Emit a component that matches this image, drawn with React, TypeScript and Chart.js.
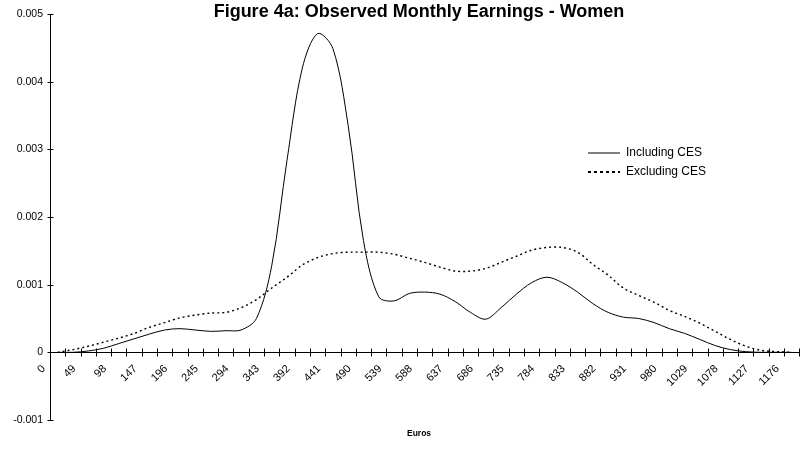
import { useEffect, useRef } from 'react';
import { Chart, registerables } from 'chart.js';

Chart.register(...registerables);

const FONT = "Arial, 'Liberation Sans', sans-serif";

const categories = [
  '0', '24.5', '49', '73.5', '98', '122.5', '147', '171.5', '196', '220.5',
  '245', '269.5', '294', '318.5', '343', '367.5', '392', '416.5', '441', '465.5',
  '490', '514.5', '539', '563.5', '588', '612.5', '637', '661.5', '686', '710.5',
  '735', '759.5', '784', '808.5', '833', '857.5', '882', '906.5', '931', '955.5',
  '980', '1004.5', '1029', '1053.5', '1078', '1102.5', '1127', '1151.5', '1176',
];

const tickLabels = [
  '0', '49', '98', '147', '196', '245', '294', '343', '392', '441', '490', '539', '588',
  '637', '686', '735', '784', '833', '882', '931', '980', '1029', '1078', '1127', '1176',
];

const includingCES = [
  0, 0, 0.00002, 0.00006, 0.00013, 0.0002, 0.00027, 0.00033, 0.00035, 0.00033,
  0.00031, 0.00032, 0.00033, 0.0005, 0.00128, 0.00284, 0.0042, 0.00471, 0.00449, 0.00335,
  0.00165, 0.00082, 0.00076, 0.00087, 0.00089, 0.00086, 0.00075, 0.00059, 0.00049, 0.00066,
  0.00086, 0.00103, 0.00111, 0.00103, 0.00089, 0.00072, 0.00059, 0.00052, 0.0005, 0.00044,
  0.00035, 0.00028, 0.00019, 0.0001, 0.00004, 0.00001, 0, 0, 0,
];

const excludingCES = [
  0, 0.00004, 0.00009, 0.00015, 0.00021, 0.00028, 0.00037, 0.00044, 0.00051, 0.00055,
  0.00058, 0.00059, 0.00066, 0.00078, 0.00095, 0.00111, 0.00129, 0.0014, 0.00146, 0.00148,
  0.00148, 0.00148, 0.00145, 0.00139, 0.00133, 0.00126, 0.0012, 0.0012, 0.00124, 0.00133,
  0.00142, 0.00151, 0.00155, 0.00155, 0.00148, 0.0013, 0.00114, 0.00095, 0.00084, 0.00074,
  0.00062, 0.00053, 0.00043, 0.00031, 0.00019, 0.00009, 0.00003, 0.00001, 0,
];

const yMin = -0.001;
const yMax = 0.005;
const yStep = 0.001;

const crossTicks = {
  id: 'crossTicks',
  afterDraw(chart: any) {
    const ctx = chart.ctx;
    const xs = chart.scales.x;
    const ys = chart.scales.y;
    const y0 = Math.round(ys.getPixelForValue(0)) + 0.5;
    const x0 = Math.round(chart.chartArea.left) + 0.5;
    const n = categories.length;
    const w = xs.getPixelForValue(1) - xs.getPixelForValue(0);
    const start = xs.getPixelForValue(0) - w / 2;
    ctx.save();
    ctx.strokeStyle = '#000';
    ctx.lineWidth = 1;
    ctx.beginPath();
    for (let i = 0; i <= n; i++) {
      const px = Math.round(start + i * w) + 0.5;
      ctx.moveTo(px, y0 - 4);
      ctx.lineTo(px, y0 + 4);
    }
    ys.ticks.forEach((t: any) => {
      const py = Math.round(ys.getPixelForValue(t.value)) + 0.5;
      ctx.moveTo(x0 - 3, py);
      ctx.lineTo(x0 + 3, py);
    });
    ctx.stroke();
    ctx.restore();
  },
};

const placeBoxes = {
  id: 'placeBoxes',
  afterLayout(chart: any) {
    const lg = chart.legend;
    if (lg) {
      const pad = lg.options.labels.padding;
      const w = lg.width;
      const h = lg.height;
      lg.left = 588 - pad;
      lg.top = 147 - pad;
      lg.right = lg.left + w;
      lg.bottom = lg.top + h;
    }
    chart.boxes.forEach((b: any) => {
      if (b.options && (b.options.text === 'Euros' || b === chart.titleBlock)) {
        b.left = 0;
        b.right = 838;
      }
    });
  },
};

export default function App() {
  const ref = useRef<HTMLCanvasElement>(null);
  useEffect(() => {
    if (!ref.current) return;
    const chart = new Chart(ref.current, {
      type: 'line',
      data: {
        labels: categories,
        datasets: [
          {
            label: 'Including CES',
            data: includingCES,
            borderColor: '#000',
            backgroundColor: '#000',
            borderWidth: 1,
            pointRadius: 0,
            pointStyle: 'line',
            tension: 0.33,
            fill: false,
          },
          {
            label: 'Excluding CES',
            data: excludingCES,
            borderColor: '#000',
            backgroundColor: '#000',
            borderWidth: 1.4,
            borderDash: [2, 3],
            pointRadius: 0,
            pointStyle: 'line',
            tension: 0.33,
            fill: false,
          },
        ],
      },
      options: {
        animation: false,
        responsive: false,
        devicePixelRatio: 1,
        events: [],
        layout: { padding: { top: 14, left: 0, right: 3, bottom: 10.8 } },
        scales: {
          x: {
            type: 'category',
            position: { y: 0 } as any,
            offset: true,
            grid: { display: false, drawTicks: false, offset: true },
            border: { display: true, color: '#000', width: 1 },
            ticks: {
              autoSkip: false,
              minRotation: 45,
              maxRotation: 45,
              labelOffset: -14,
              padding: 10,
              color: '#000',
              font: { size: 11, family: FONT },
              callback: (_v: any, i: number) => (i % 2 === 0 ? tickLabels[i / 2] : ''),
            },
          },
          y: {
            min: yMin,
            max: yMax,
            grid: { display: false, drawTicks: false },
            border: { display: true, color: '#000', width: 1 },
            ticks: {
              stepSize: yStep,
              padding: 7,
              color: '#000',
              font: { size: 10.5, family: FONT },
              callback: (v: any) => String(Number(Number(v).toFixed(4))),
            },
            afterFit: (s: any) => {
              s.width = 50;
            },
          },
        },
        plugins: {
          title: {
            display: true,
            text: 'Figure 4a: Observed Monthly Earnings - Women',
            color: '#000',
            font: { size: 18, weight: 'bold', family: FONT },
            padding: { top: -12.8, bottom: -8.8 },
          },
          subtitle: {
            display: true,
            position: 'bottom',
            text: 'Euros',
            color: '#000',
            font: { size: 8.5, weight: 'bold', family: FONT },
            padding: { top: 9, bottom: 0 },
          },
          legend: {
            display: true,
            position: 'chartArea',
            align: 'start',
            labels: {
              usePointStyle: true,
              pointStyle: 'line',
              pointStyleWidth: 32,
              boxHeight: 12,
              padding: 7,
              color: '#000',
              font: { size: 12, family: FONT },
              generateLabels: (c: any) => {
                const items = Chart.defaults.plugins.legend.labels.generateLabels(c);
                items.forEach((it: any, i: number) => {
                  const ds: any = c.data.datasets[i];
                  it.strokeStyle = '#000';
                  it.fillStyle = '#000';
                  it.lineDash = ds.borderDash ? [3, 3] : [];
                  it.lineWidth = ds.borderDash ? 2 : 1;
                  it.pointStyle = 'line';
                });
                return items;
              },
            },
          },
          tooltip: { enabled: false },
        },
      },
      plugins: [crossTicks, placeBoxes],
    } as any);
    return () => chart.destroy();
  }, []);
  return (
    <div style={{ position: 'fixed', left: 0, top: 0, width: 811, height: 450, background: '#fff' }}>
      <canvas ref={ref} width={811} height={450} style={{ display: 'block' }} />
    </div>
  );
}
